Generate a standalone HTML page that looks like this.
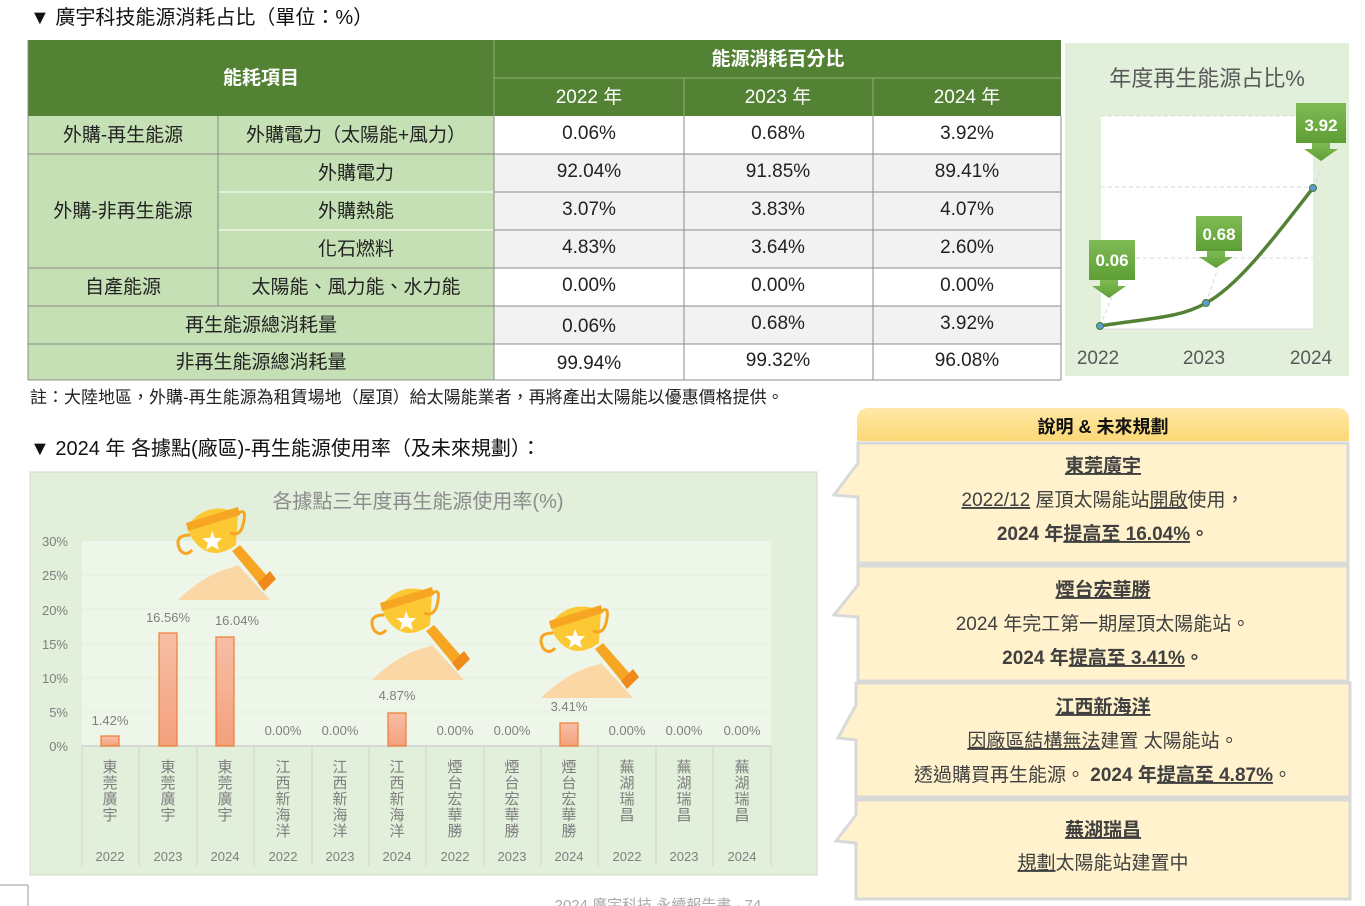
<!DOCTYPE html>
<html><head><meta charset="utf-8"><style>
html,body{margin:0;padding:0;background:#fff;}
svg{display:block;font-family:"Liberation Sans","Noto Sans CJK TC",sans-serif;}
</style></head><body>
<svg width="1365" height="906" viewBox="0 0 1365 906" xmlns="http://www.w3.org/2000/svg">
<defs>
<linearGradient id="bar" x1="0" y1="0" x2="0" y2="1"><stop offset="0" stop-color="#f7bfa6"/><stop offset="1" stop-color="#f4a07d"/></linearGradient>
<linearGradient id="hdr" x1="0" y1="0" x2="0" y2="1"><stop offset="0" stop-color="#ffe9a8"/><stop offset="1" stop-color="#fcd874"/></linearGradient>
<linearGradient id="gb" x1="0" y1="0" x2="0" y2="1"><stop offset="0" stop-color="#7fbb55"/><stop offset="1" stop-color="#5e9e34"/></linearGradient>
<g id="trophy">
<path d="M60 60 L92 95 L70 95 L40 70 Z" fill="#fad7a5"/>
<path d="M0 95 Q25 70 55 62 L70 80 L70 95 Z" fill="#fad7a5"/>
<path d="M54 46 L82 80 L90 72 L62 40 Z" fill="#f6a623"/>
<path d="M80 78 L92 66 L98 74 L86 86 Z" fill="#f08a1a"/>
<path d="M10 20 Q30 -5 60 8 L58 40 Q30 60 12 30 Z" fill="#fcc934"/>
<path d="M8 18 L60 2 L62 10 L10 26 Z" fill="#f6a623"/>
<path d="M34 26 l3 7 7 0 -5 5 2 7 -7 -4 -6 4 2 -7 -6 -5 8 0 z" fill="#fff"/>
<path d="M12 30 Q-5 30 2 45 Q8 52 14 45" fill="none" stroke="#f6a623" stroke-width="3"/>
<path d="M58 10 Q70 0 65 20 Q62 32 52 28" fill="none" stroke="#f6a623" stroke-width="3"/>
</g>
<g id="dg"><text y="0">東</text><text y="16">莞</text><text y="32">廣</text><text y="48">宇</text></g>
<g id="jx"><text y="0">江</text><text y="16">西</text><text y="32">新</text><text y="48">海</text><text y="64">洋</text></g>
<g id="yt"><text y="0">煙</text><text y="16">台</text><text y="32">宏</text><text y="48">華</text><text y="64">勝</text></g>
<g id="wh"><text y="0">蕪</text><text y="16">湖</text><text y="32">瑞</text><text y="48">昌</text></g>
</defs>

<text x="30" y="24" font-size="20" fill="#111">▼ 廣宇科技能源消耗占比（單位：%）</text>

<rect x="28" y="40" width="1033" height="76" fill="#548235"/>
<line x1="494" y1="40" x2="494" y2="116" stroke="#8fb070"/>
<line x1="494" y1="78" x2="1061" y2="78" stroke="#8fb070"/>
<line x1="684" y1="78" x2="684" y2="116" stroke="#8fb070"/>
<line x1="873" y1="78" x2="873" y2="116" stroke="#8fb070"/>
<g fill="#fff" font-size="19" text-anchor="middle">
<text x="261" y="84" font-weight="bold">能耗項目</text>
<text x="778" y="65" font-weight="bold">能源消耗百分比</text>
<text x="589" y="103">2022 年</text>
<text x="778" y="103">2023 年</text>
<text x="967" y="103">2024 年</text>
</g>
<rect x="28" y="116" width="466" height="264" fill="#c5e0b4"/>
<rect x="494" y="116" width="567" height="38" fill="#fff"/>
<rect x="494" y="154" width="567" height="114" fill="#f2f2f2"/>
<rect x="494" y="268" width="567" height="38" fill="#fff"/>
<rect x="494" y="306" width="567" height="38" fill="#f2f2f2"/>
<rect x="494" y="344" width="567" height="36" fill="#fff"/>
<g stroke="#8c8c8c" stroke-width="1">
<line x1="28" y1="154" x2="1061" y2="154"/>
<line x1="218" y1="192" x2="1061" y2="192" stroke="#fff"/>
<line x1="218" y1="230" x2="1061" y2="230" stroke="#fff"/>
<line x1="494" y1="192" x2="1061" y2="192"/>
<line x1="494" y1="230" x2="1061" y2="230"/>
<line x1="28" y1="268" x2="1061" y2="268"/>
<line x1="28" y1="306" x2="1061" y2="306"/>
<line x1="28" y1="344" x2="1061" y2="344"/>
<line x1="28" y1="380" x2="1061" y2="380"/>
<line x1="218" y1="116" x2="218" y2="306"/>
<line x1="494" y1="116" x2="494" y2="380"/>
<line x1="684" y1="116" x2="684" y2="380"/>
<line x1="873" y1="116" x2="873" y2="380"/>
<line x1="1061" y1="116" x2="1061" y2="380"/>
<line x1="28" y1="40" x2="28" y2="380"/>
</g>
<g font-size="19" fill="#222" text-anchor="middle">
<text x="123" y="141">外購-再生能源</text>
<text x="356" y="141">外購電力（太陽能+風力）</text>
<text x="123" y="217">外購-非再生能源</text>
<text x="356" y="179">外購電力</text>
<text x="356" y="217">外購熱能</text>
<text x="356" y="255">化石燃料</text>
<text x="123" y="293">自產能源</text>
<text x="356" y="293">太陽能、風力能、水力能</text>
<text x="261" y="331">再生能源總消耗量</text>
<text x="261" y="368">非再生能源總消耗量</text>
</g>
<g font-size="19" fill="#222" text-anchor="middle">
<text x="589" y="139">0.06%</text><text x="778" y="139">0.68%</text><text x="967" y="139">3.92%</text>
<text x="589" y="177">92.04%</text><text x="778" y="177">91.85%</text><text x="967" y="177">89.41%</text>
<text x="589" y="215">3.07%</text><text x="778" y="215">3.83%</text><text x="967" y="215">4.07%</text>
<text x="589" y="253">4.83%</text><text x="778" y="253">3.64%</text><text x="967" y="253">2.60%</text>
<text x="589" y="291">0.00%</text><text x="778" y="291">0.00%</text><text x="967" y="291">0.00%</text>
<text x="589" y="332">0.06%</text><text x="778" y="329">0.68%</text><text x="967" y="329">3.92%</text>
<text x="589" y="369">99.94%</text><text x="778" y="366">99.32%</text><text x="967" y="366">96.08%</text>
</g>
<text x="30" y="403" font-size="17" fill="#222">註：大陸地區，外購-再生能源為租賃場地（屋頂）給太陽能業者，再將產出太陽能以優惠價格提供。</text>

<rect x="1065" y="43" width="284" height="333" fill="#e2efda"/>
<text x="1207" y="86" font-size="22" fill="#595959" text-anchor="middle">年度再生能源占比%</text>
<rect x="1101" y="116" width="212" height="213" fill="#fff"/>
<g stroke="#d9d9d9" stroke-dasharray="4,3">
<line x1="1101" y1="116" x2="1313" y2="116"/><line x1="1101" y1="187" x2="1313" y2="187"/><line x1="1101" y1="258" x2="1313" y2="258"/>
<line x1="1100" y1="326" x2="1112" y2="297"/><line x1="1206" y1="303" x2="1218" y2="268"/><line x1="1313" y1="188" x2="1322" y2="167"/>
</g>
<line x1="1101" y1="329" x2="1313" y2="329" stroke="#d9d9d9"/>
<path d="M1100 326 C1150 318 1180 318 1206 303 C1240 285 1280 230 1313 188" fill="none" stroke="#548235" stroke-width="3.5"/>
<g fill="#5b9bd5" stroke="#4a7a2c"><circle cx="1100" cy="326" r="3.5"/><circle cx="1206" cy="303" r="3.5"/><circle cx="1313" cy="188" r="3.5"/></g>
<g fill="url(#gb)">
<rect x="1089" y="240" width="46" height="40"/><path d="M1100 280 h18 v6 h8 l-17 12 l-17 -12 h8z"/>
<rect x="1196" y="216" width="46" height="35"/><path d="M1207 251 h18 v6 h8 l-17 11 l-17 -11 h8z"/>
<rect x="1296" y="103" width="50" height="40"/><path d="M1312 143 h18 v6 h8 l-17 12 l-17 -12 h8z"/>
</g>
<g fill="#fff" font-size="17" font-weight="bold" text-anchor="middle">
<text x="1112" y="266">0.06</text><text x="1219" y="240">0.68</text><text x="1321" y="131">3.92</text>
</g>
<g fill="#595959" font-size="19" text-anchor="middle">
<text x="1098" y="364">2022</text><text x="1204" y="364">2023</text><text x="1311" y="364">2024</text>
</g>

<text x="30" y="455" font-size="20" fill="#111">▼ 2024 年 各據點(廠區)-再生能源使用率（及未來規劃）：</text>

<rect x="30" y="472" width="787" height="403" fill="#e2efda" stroke="#d0d8cc"/>
<text x="418" y="508" font-size="20" fill="#8c8c8c" text-anchor="middle">各據點三年度再生能源使用率(%)</text>
<rect x="82" y="541" width="689" height="205" fill="#eef6e9"/>
<g stroke="#e4eedd"><line x1="82" y1="575" x2="771" y2="575"/><line x1="82" y1="609" x2="771" y2="609"/><line x1="82" y1="644" x2="771" y2="644"/><line x1="82" y1="678" x2="771" y2="678"/><line x1="82" y1="712" x2="771" y2="712"/></g>
<line x1="82" y1="746" x2="771" y2="746" stroke="#d0d0d0" stroke-width="1.5"/>
<g fill="#7f7f7f" font-size="13" text-anchor="end">
<text x="68" y="546">30%</text><text x="68" y="580">25%</text><text x="68" y="615">20%</text><text x="68" y="649">15%</text><text x="68" y="683">10%</text><text x="68" y="717">5%</text><text x="68" y="751">0%</text>
</g>
<g stroke="#d0d0d0">
<line x1="82" y1="746" x2="82" y2="866"/><line x1="139" y1="746" x2="139" y2="866"/><line x1="197" y1="746" x2="197" y2="866"/><line x1="254" y1="746" x2="254" y2="866"/><line x1="312" y1="746" x2="312" y2="866"/><line x1="369" y1="746" x2="369" y2="866"/><line x1="426" y1="746" x2="426" y2="866"/><line x1="484" y1="746" x2="484" y2="866"/><line x1="541" y1="746" x2="541" y2="866"/><line x1="598" y1="746" x2="598" y2="866"/><line x1="656" y1="746" x2="656" y2="866"/><line x1="713" y1="746" x2="713" y2="866"/><line x1="771" y1="746" x2="771" y2="866"/>
</g>
<g fill="url(#bar)" stroke="#ed7d31" stroke-width="1.2">
<rect x="101" y="736" width="18" height="10"/>
<rect x="159" y="633" width="18" height="113"/>
<rect x="216" y="637" width="18" height="109"/>
<rect x="388" y="713" width="18" height="33"/>
<rect x="560" y="723" width="18" height="23"/>
</g>
<g fill="#7f7f7f" font-size="13" text-anchor="middle">
<text x="110" y="725">1.42%</text><text x="168" y="622">16.56%</text><text x="237" y="625">16.04%</text>
<text x="283" y="735">0.00%</text><text x="340" y="735">0.00%</text><text x="397" y="700">4.87%</text>
<text x="455" y="735">0.00%</text><text x="512" y="735">0.00%</text><text x="569" y="711">3.41%</text>
<text x="627" y="735">0.00%</text><text x="684" y="735">0.00%</text><text x="742" y="735">0.00%</text>
</g>
<g fill="#7f7f7f" font-size="15" text-anchor="middle">
<use href="#dg" x="110" y="772"/><use href="#dg" x="168" y="772"/><use href="#dg" x="225" y="772"/>
<use href="#jx" x="283" y="772"/><use href="#jx" x="340" y="772"/><use href="#jx" x="397" y="772"/>
<use href="#yt" x="455" y="772"/><use href="#yt" x="512" y="772"/><use href="#yt" x="569" y="772"/>
<use href="#wh" x="627" y="772"/><use href="#wh" x="684" y="772"/><use href="#wh" x="742" y="772"/>
</g>
<g fill="#7f7f7f" font-size="13" text-anchor="middle">
<text x="110" y="861">2022</text><text x="168" y="861">2023</text><text x="225" y="861">2024</text>
<text x="283" y="861">2022</text><text x="340" y="861">2023</text><text x="397" y="861">2024</text>
<text x="455" y="861">2022</text><text x="512" y="861">2023</text><text x="569" y="861">2024</text>
<text x="627" y="861">2022</text><text x="684" y="861">2023</text><text x="742" y="861">2024</text>
</g>
<use href="#trophy" x="178" y="505"/>
<use href="#trophy" x="372" y="585"/>
<use href="#trophy" x="541" y="603"/>

<path d="M857 420 Q857 408 869 408 L1337 408 Q1349 408 1349 420 L1349 441 L857 441 Z" fill="url(#hdr)"/>
<text x="1103" y="433" font-size="18" font-weight="bold" fill="#111" text-anchor="middle">說明 &amp; 未來規劃</text>
<g fill="#fff2cc" stroke="#d9d9d9" stroke-width="3">
<path d="M858 443 H1348 V563 H858 V497 L834 495 L858 463 Z"/>
<path d="M858 566 H1348 V681 H858 V617 L834 615 L858 585 Z"/>
<path d="M856 683 H1350 V797 H856 V740 L838 738 L856 705 Z"/>
<path d="M856 800 H1350 V899 H856 V843 L836 841 L856 815 Z"/>
</g>
<g font-size="19" fill="#404040" text-anchor="middle">
<text x="1103" y="472" font-weight="bold" text-decoration="underline">東莞廣宇</text>
<text x="1103" y="506"><tspan text-decoration="underline">2022/12</tspan> 屋頂太陽能站<tspan text-decoration="underline">開啟</tspan>使用，</text>
<text x="1103" y="540" font-weight="bold">2024 年<tspan text-decoration="underline">提高至 16.04%</tspan>。</text>
<text x="1103" y="596" font-weight="bold" text-decoration="underline">煙台宏華勝</text>
<text x="1103" y="630">2024 年完工第一期屋頂太陽能站。</text>
<text x="1103" y="664" font-weight="bold">2024 年<tspan text-decoration="underline">提高至 3.41%</tspan>。</text>
<text x="1103" y="713" font-weight="bold" text-decoration="underline">江西新海洋</text>
<text x="1103" y="747"><tspan text-decoration="underline">因廠區結構無法</tspan>建置 太陽能站。</text>
<text x="1103" y="781">透過購買再生能源。 <tspan font-weight="bold">2024 年<tspan text-decoration="underline">提高至 4.87%</tspan></tspan>。</text>
<text x="1103" y="836" font-weight="bold" text-decoration="underline">蕪湖瑞昌</text>
<text x="1103" y="869"><tspan text-decoration="underline">規劃</tspan>太陽能站建置中</text>
</g>
<line x1="0" y1="885" x2="28" y2="885" stroke="#999"/><line x1="28" y1="885" x2="28" y2="906" stroke="#999"/>
<text x="658" y="910" font-size="15" fill="#aaa" text-anchor="middle">2024 廣宇科技 永續報告書 · 74</text>
</svg>
</body></html>
